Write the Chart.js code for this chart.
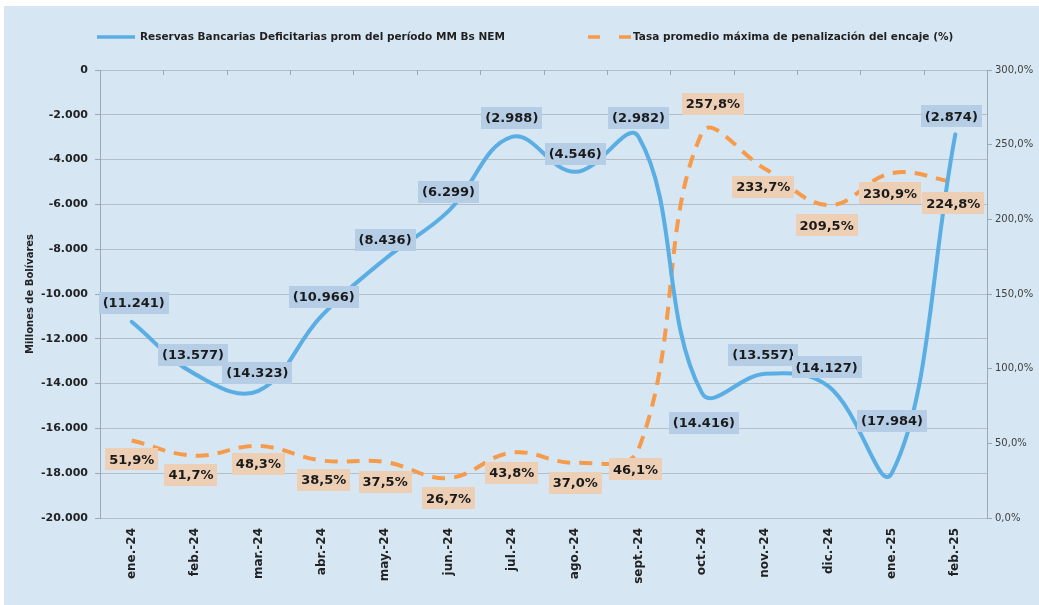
<!DOCTYPE html>
<html><head><meta charset="utf-8">
<script src="https://cdn.jsdelivr.net/npm/chart.js@4.4.1/dist/chart.umd.min.js"></script>
<style>html,body{margin:0;padding:0;background:#fff;overflow:hidden}#wrap{width:1039px;height:605px}</style>
</head><body><div id="wrap"><canvas id="c" width="1039" height="605"></canvas></div>
<script>
// ---- data ----
const categories = ['ene.-24','feb.-24','mar.-24','abr.-24','may.-24','jun.-24','jul.-24','ago.-24','sept.-24','oct.-24','nov.-24','dic.-24','ene.-25','feb.-25'];
const reservas = [-11241,-13577,-14323,-10966,-8436,-6299,-2988,-4546,-2982,-14416,-13557,-14127,-17984,-2874];
const tasa = [51.9,41.7,48.3,38.5,37.5,26.7,43.8,37.0,46.1,257.8,233.7,209.5,230.9,224.8];
const seriesNames = ['Reservas Bancarias Deficitarias prom del período MM Bs NEM','Tasa promedio máxima de penalización del encaje (%)'];
const yTitle = 'Millones de Bolívares';
const leftAxis = {min:-20000, max:0, step:2000};
const rightAxis = {min:0, max:300, step:50};

// label placement (dx, dy from point, px)
const blueLabelPos = [[2,-19],[-2,-19],[-1,-18],[2,-19],[0,-19],[0,-19],[0,-19],[0,-18],[0,-19],[2,30],[-2,-19],[-2,-19],[0,-52],[-4,-18]];
const orangeLabelPos = [[0,19],[-4,19],[0,18],[2,19],[0,20],[0,20],[0,20],[0,20],[-3,20],[11,-29],[-2,18],[-2,20],[-2,20],[-2,21]];

const fmtThousands = n => String(n).replace(/\B(?=(\d{3})+(?!\d))/g,'.');
const fmtLeft = v => v < 0 ? '-' + fmtThousands(Math.abs(v)) : fmtThousands(v);
const fmtBlue = v => '(' + fmtThousands(Math.abs(v)) + ')';
const fmtPct = v => v.toFixed(1).replace('.',',') + '%';

const FONT = '"DejaVu Sans", Verdana, sans-serif';
const BLUE = '#5aaee3';
const ORANGE = '#f79a4a';
const GRID = '#b3bec8';
const AXIS = '#9ea8b2';

const bgPlugin = {
  id:'bg',
  beforeDraw(chart){
    const ctx = chart.ctx;
    ctx.save();
    ctx.fillStyle = '#ffffff';
    ctx.fillRect(0,0,chart.width,chart.height);
    ctx.fillStyle = '#d6e7f3';
    ctx.fillRect(4,6,chart.width-4,chart.height-6);
    ctx.restore();
  }
};

const topTicksPlugin = {
  id:'topTicks',
  afterDraw(chart){
    const ctx = chart.ctx, xs = chart.scales.x, top = chart.chartArea.top;
    ctx.save();
    ctx.strokeStyle = AXIS; ctx.lineWidth = 1;
    for (let i = 0; i < categories.length - 1; i++){
      const x = Math.round((xs.getPixelForValue(i) + xs.getPixelForValue(i+1))/2) + 0.5;
      ctx.beginPath(); ctx.moveTo(x, top); ctx.lineTo(x, top + 5); ctx.stroke();
    }
    ctx.restore();
  }
};

const legendPlugin = {
  id:'customLegend',
  afterDraw(chart){
    const ctx = chart.ctx, y = 37;
    ctx.save();
    ctx.lineWidth = 3.5;
    ctx.strokeStyle = BLUE;
    ctx.beginPath(); ctx.moveTo(97,y); ctx.lineTo(135,y); ctx.stroke();
    ctx.strokeStyle = ORANGE;
    ctx.setLineDash([12,19]);
    ctx.beginPath(); ctx.moveTo(588,y); ctx.lineTo(631,y); ctx.stroke();
    ctx.setLineDash([]);
    ctx.fillStyle = '#1f1f1f';
    ctx.font = 'bold 10.5px ' + FONT;
    ctx.textBaseline = 'middle'; ctx.textAlign = 'left';
    ctx.fillText(seriesNames[0], 140, y);
    ctx.fillText(seriesNames[1], 633, y);
    ctx.restore();
  }
};

const labelPlugin = {
  id:'boxLabels',
  afterDatasetsDraw(chart){
    const ctx = chart.ctx;
    const cfgs = [
      {fmt: fmtBlue, pos: blueLabelPos, bg:'#b6cde6'},
      {fmt: fmtPct, pos: orangeLabelPos, bg:'#eccfb5'}
    ];
    ctx.save();
    ctx.font = 'bold 13px ' + FONT;
    ctx.textAlign = 'center'; ctx.textBaseline = 'middle';
    [1,0].forEach(di => {
      const meta = chart.getDatasetMeta(di);
      const cfg = cfgs[di];
      meta.data.forEach((pt,i) => {
        const txt = cfg.fmt(chart.data.datasets[di].data[i]);
        const w = ctx.measureText(txt).width + 8, h = 22;
        const cx = pt.x + cfg.pos[i][0], cy = pt.y + cfg.pos[i][1];
        ctx.fillStyle = cfg.bg;
        ctx.fillRect(Math.round(cx - w/2), Math.round(cy - h/2), Math.round(w), h);
        ctx.fillStyle = '#1a1a1a';
        ctx.fillText(txt, cx, cy + 1);
      });
    });
    ctx.restore();
  }
};

new Chart(document.getElementById('c'), {
  type:'line',
  data:{
    labels: categories,
    datasets:[
      {label: seriesNames[0], data: reservas, yAxisID:'y', borderColor: BLUE, backgroundColor: BLUE,
       borderWidth: 4, tension: 0.4, pointRadius: 0, fill:false, borderCapStyle:'round'},
      {label: seriesNames[1], data: tasa, yAxisID:'y1', borderColor: ORANGE, backgroundColor: ORANGE,
       borderWidth: 4, borderDash:[13,9], tension: 0.4, pointRadius: 0, fill:false}
    ]
  },
  options:{
    responsive:false, animation:false, devicePixelRatio:1,
    layout:{padding:{top:70, left:0, right:0, bottom:0}},
    plugins:{legend:{display:false}, tooltip:{enabled:false}, title:{display:false}},
    scales:{
      x:{
        type:'category', offset:true,
        grid:{display:false, drawTicks:false},
        border:{display:false},
        ticks:{autoSkip:false, maxRotation:90, minRotation:90, padding:10,
               color:'#222', font:{family:FONT, size:12, weight:'bold'}},
        afterFit(s){ s.height = 87; }
      },
      y:{
        position:'left', min:leftAxis.min, max:leftAxis.max,
        ticks:{stepSize:leftAxis.step, callback:v => fmtLeft(v), padding:7,
               color:'#222', font:{family:FONT, size:11, weight:'bold'}},
        grid:{color:GRID, lineWidth:1, drawTicks:true, tickLength:5, tickColor:AXIS},
        border:{display:true, color:AXIS, width:1},
        title:{display:true, text:yTitle, color:'#222', font:{family:FONT, size:10, weight:'bold'}, padding:{top:24,bottom:0}},
        afterFit(s){ s.width = 100; }
      },
      y1:{
        position:'right', min:rightAxis.min, max:rightAxis.max,
        ticks:{stepSize:rightAxis.step, callback:v => fmtPct(v), padding:3,
               color:'#404040', font:{family:FONT, size:10}},
        grid:{drawOnChartArea:false, drawTicks:true, tickLength:5, color:AXIS},
        border:{display:true, color:AXIS, width:1},
        afterFit(s){ s.width = 52; }
      }
    }
  },
  plugins:[bgPlugin, topTicksPlugin, labelPlugin, legendPlugin]
});
</script>
</body></html>
